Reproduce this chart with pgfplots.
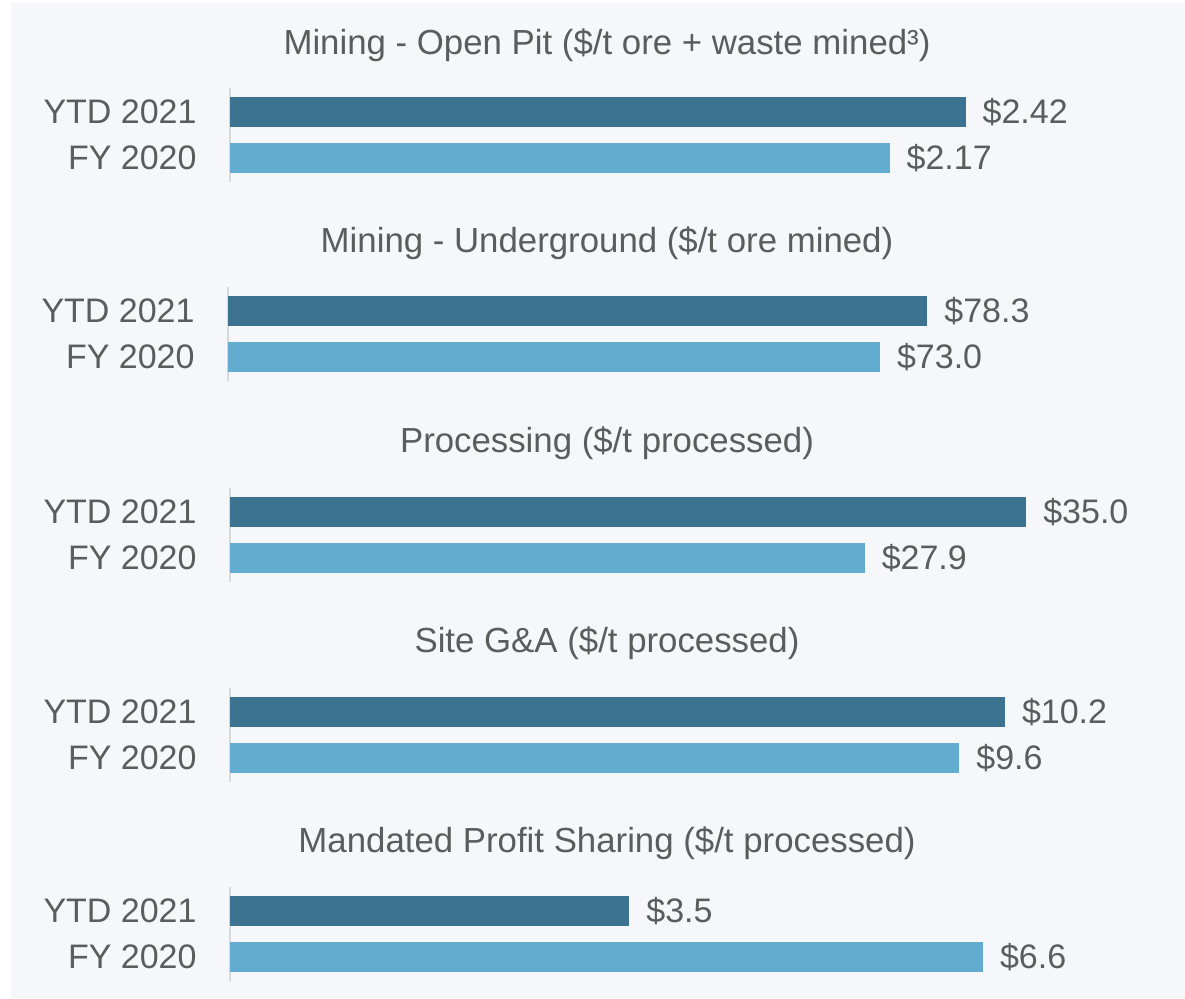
\documentclass[border=0pt]{standalone}
\usepackage{pgfplots}
\pgfplotsset{compat=1.18}
\usepackage{fontspec}
\setmainfont{Liberation Sans}
\definecolor{bg}{HTML}{F5F7FB}
\definecolor{darkbar}{HTML}{3B7390}
\definecolor{lightbar}{HTML}{62ADCF}
\definecolor{txt}{HTML}{5C5C5C}
\newcommand{\lblfont}{\fontsize{17}{19}\selectfont}
\newcommand{\ttlfont}{\fontsize{17.4}{20}\selectfont}
\pgfplotsset{panel/.style={
  width=435pt, height=46.92pt, scale only axis,
  xmin=0, ymin=-0.52, ymax=1.52,
  hide x axis, axis y line*=left,
  y axis line style={draw=black!15, line width=0.6pt},
  ytick={0,1}, yticklabels={FY 2020,YTD 2021},
  major tick length=0pt,
  yticklabel style={font=\lblfont, text=txt, anchor=east, inner sep=0pt, xshift=-16.5pt},
  xbar, bar width=15pt, bar shift=0pt,
  point meta=explicit symbolic,
  nodes near coords,
  nodes near coords style={font=\lblfont, text=txt, anchor=west, inner sep=0pt, xshift=8.3pt},
  clip=false,
}}
\begin{document}
\begin{tikzpicture}
\fill[white] (0,0) rectangle (592.5pt,-499pt);
\fill[bg] (5.5pt,-1.5pt) rectangle (592.5pt,-499pt);
% Panel 1
\begin{axis}[panel, at={(115pt,-91pt)}, anchor=south west, xmax=2.862]
\addplot[fill=darkbar, draw=none] coordinates {(2.42,1) [\$2.42]};
\addplot[fill=lightbar, draw=none] coordinates {(2.17,0) [\$2.17]};
\end{axis}
% Panel 2
\begin{axis}[panel, at={(114pt,-190.5pt)}, anchor=south west, xmax=97.4]
\addplot[fill=darkbar, draw=none] coordinates {(78.3,1) [\$78.3]};
\addplot[fill=lightbar, draw=none] coordinates {(73.0,0) [\$73.0]};
\end{axis}
% Panel 3
\begin{axis}[panel, at={(115pt,-291pt)}, anchor=south west, xmax=38.24]
\addplot[fill=darkbar, draw=none] coordinates {(35.0,1) [\$35.0]};
\addplot[fill=lightbar, draw=none] coordinates {(27.9,0) [\$27.9]};
\end{axis}
% Panel 4
\begin{axis}[panel, at={(115pt,-391pt)}, anchor=south west, xmax=11.45]
\addplot[fill=darkbar, draw=none] coordinates {(10.2,1) [\$10.2]};
\addplot[fill=lightbar, draw=none] coordinates {(9.6,0) [\$9.6]};
\end{axis}
% Panel 5
\begin{axis}[panel, at={(115pt,-490.5pt)}, anchor=south west, xmax=7.625]
\addplot[fill=darkbar, draw=none] coordinates {(3.5,1) [\$3.5]};
\addplot[fill=lightbar, draw=none] coordinates {(6.6,0) [\$6.6]};
\end{axis}
\begin{scope}[every node/.style={font=\ttlfont, text=txt}]
\node at (303.5pt,-22.5pt) {Mining - Open Pit (\$/t ore + waste mined³)};
\node at (303.5pt,-121.5pt) {Mining - Underground (\$/t ore mined)};
\node at (303.5pt,-221.5pt) {Processing (\$/t processed)};
\node at (303.5pt,-321.5pt) {Site G\&A (\$/t processed)};
\node at (303.5pt,-421.5pt) {Mandated Profit Sharing (\$/t processed)};
\end{scope}
\pgfresetboundingbox
\path (0,0) rectangle (592.5pt,-499pt);
\end{tikzpicture}
\end{document}
